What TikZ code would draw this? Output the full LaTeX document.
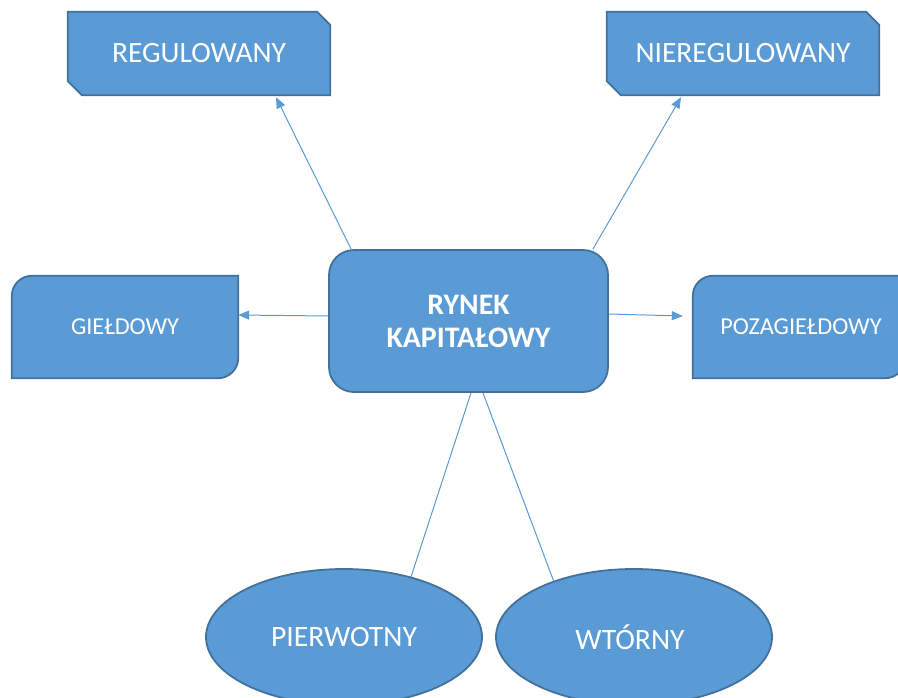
\documentclass[tikz,border=0pt]{standalone}
\usepackage{fontspec}
\setmainfont{Carlito}
\usetikzlibrary{arrows.meta,calc,shapes.geometric}
\definecolor{fillb}{HTML}{5B9BD5}
\definecolor{edgeb}{HTML}{41719C}
\pgfdeclarelayer{bg}
\pgfsetlayers{bg,main}
\begin{document}
\begin{tikzpicture}[x=1pt,y=-1pt,
  box/.style={fill=fillb,draw=edgeb,line width=1.8pt},
  lbl/.style={text=white,inner sep=0pt},
  conn/.style={draw=fillb,line width=1pt},
  arr/.style={conn,-{Triangle[length=11pt,width=9pt]}},
  bigtxt/.style={font=\fontsize{29.5}{34}\selectfont},
  midtxt/.style={font=\fontsize{24.3}{28}\selectfont},
  elltxt/.style={font=\fontsize{29.6}{34}\selectfont}]
\useasboundingbox (0,0) rectangle (898,697);
\clip (0,0) rectangle (898,697);

% snipped boxes
\node[lbl,bigtxt,minimum width=262pt,minimum height=83pt] (reg) at (199,53.5) {REGULOWANY};
\node[lbl,bigtxt,minimum width=272pt,minimum height=83pt] (nier) at (743,53.5) {NIEREGULOWANY};
% round diagonal boxes
\node[lbl,midtxt,minimum width=226pt,minimum height=102pt] (gie) at (125,327) {GIEŁDOWY};
\node[lbl,midtxt,minimum width=212pt,minimum height=102pt] (poz) at (799,327) {\hspace*{4pt}POZAGIEŁDOWY};

\begin{pgfonlayer}{bg}
\draw[box] ($(reg.north west)$) -- ($(reg.north east)+(-13,0)$) -- ($(reg.north east)+(0,13)$)
  -- (reg.south east) -- ($(reg.south west)+(14,0)$) -- ($(reg.south west)+(0,-14)$) -- cycle;
\draw[box] ($(nier.north west)$) -- ($(nier.north east)+(-13,0)$) -- ($(nier.north east)+(0,13)$)
  -- (nier.south east) -- ($(nier.south west)+(14,0)$) -- ($(nier.south west)+(0,-14)$) -- cycle;
\draw[box] (gie.south west) -- ($(gie.north west)+(0,20)$)
  .. controls ($(gie.north west)+(0,9)$) and ($(gie.north west)+(9,0)$) .. ($(gie.north west)+(20,0)$)
  -- (gie.north east) -- ($(gie.south east)+(0,-20)$)
  .. controls ($(gie.south east)+(0,-9)$) and ($(gie.south east)+(-9,0)$) .. ($(gie.south east)+(-20,0)$)
  -- cycle;
\draw[box] (poz.south west) -- ($(poz.north west)+(0,20)$)
  .. controls ($(poz.north west)+(0,9)$) and ($(poz.north west)+(9,0)$) .. ($(poz.north west)+(20,0)$)
  -- (poz.north east) -- ($(poz.south east)+(0,-20)$)
  .. controls ($(poz.south east)+(0,-9)$) and ($(poz.south east)+(-9,0)$) .. ($(poz.south east)+(-20,0)$)
  -- cycle;
\end{pgfonlayer}

% centre
\node[box,lbl,rounded corners=25pt,minimum width=279pt,minimum height=142pt,align=center,
  font=\bfseries\fontsize{29.8}{33}\selectfont] (ryn) at (468.5,321) {RYNEK\\KAPITAŁOWY};

% ellipses
\node[box,lbl,ellipse,elltxt,minimum width=276pt,minimum height=136pt] (pie) at (344,637) {PIERWOTNY};
\node[box,lbl,ellipse,elltxt,minimum width=276pt,minimum height=136pt] (wto) at (634,637) {\hspace*{-8pt}WTÓRNY};

\begin{pgfonlayer}{bg}
\draw[arr] ($(ryn.north west)+(23,0)$) -- ($(reg.south)+(77,2)$);
\draw[arr] ($(ryn.north east)+(-16,0)$) -- ($(nier.south)+(-62,2)$);
\draw[arr] ($(ryn.west)+(0,-5)$) -- ($(gie.east)+(0,-12)$);
\draw[arr] ($(ryn.east)+(0,-7)$) -- ($(poz.west)+(-10,-11)$);
\draw[conn] ($(ryn.south)+(2.5,0)$) -- ($(pie.center)+(66,-57)$);
\draw[conn] ($(ryn.south)+(14.5,0)$) -- ($(wto.center)+(-80,-55)$);
\end{pgfonlayer}
\end{tikzpicture}
\end{document}
